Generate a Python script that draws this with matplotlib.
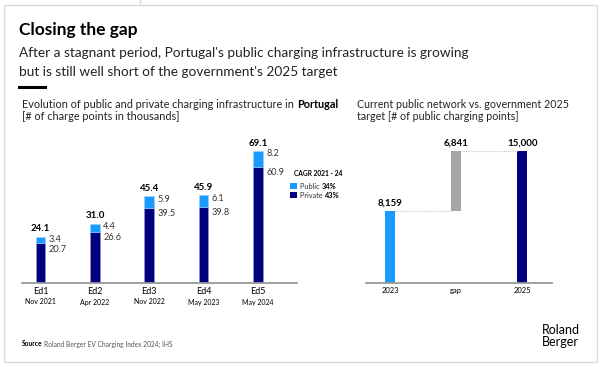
import matplotlib.pyplot as plt
from matplotlib.patches import Rectangle
from matplotlib.lines import Line2D

plt.rcParams['font.family'] = ['Lato', 'DejaVu Sans']

W, H = 605, 367

# left chart data (thousands of charge points)
editions = ['Ed1', 'Ed2', 'Ed3', 'Ed4', 'Ed5']
dates = ['Nov 2021', 'Apr 2022', 'Nov 2022', 'May 2023', 'May 2024']
private = [20.7, 26.6, 39.5, 39.8, 60.9]
public = [3.4, 4.4, 5.9, 6.1, 8.2]
totals = [24.1, 31.0, 45.4, 45.9, 69.1]

# right chart data
gap_labels = ['2023', 'gap', '2025']
current_2023 = 8159
gap_value = 6841
target_2025 = 15000

C_PUBLIC = '#1a9bff'
C_PRIVATE = '#00007f'
C_GAP = '#a6a6a6'
C_TEXT = '#222222'


def fx(x):
    return x / W


def fy(y):
    return 1 - y / H


fig = plt.figure(figsize=(W / 100, H / 100), dpi=100)

# frame
fig.patches.append(Rectangle((fx(4), fy(362)), fx(593), 357 / H, transform=fig.transFigure,
                             fill=False, edgecolor='#d9d9d9', linewidth=1.0))
fig.lines.append(Line2D([fx(140), fx(140)], [fy(0), fy(5)], transform=fig.transFigure,
                        color='#d9d9d9', linewidth=1.0))

# headings
fig.text(fx(19), fy(30), 'Closing the gap', fontsize=12.5, fontweight='bold', color='black', va='center')
fig.text(fx(19), fy(53), "After a stagnant period, Portugal's public charging infrastructure is growing",
         fontsize=9.8, color=C_TEXT, va='center')
fig.text(fx(19), fy(72), "but is still well short of the government's 2025 target",
         fontsize=9.8, color=C_TEXT, va='center')
fig.lines.append(Line2D([fx(19), fx(45)], [fy(87), fy(87)], transform=fig.transFigure,
                        color='black', linewidth=2.2))

renderer = fig.canvas.get_renderer()
t = fig.text(fx(22), fy(105), 'Evolution of public and private charging infrastructure in ',
             fontsize=7.8, color=C_TEXT, va='center')
bb = t.get_window_extent(renderer)
fig.text(bb.x1 / W, fy(105), 'Portugal', fontsize=7.8, fontweight='bold', color='black', va='center')
fig.text(fx(22), fy(116), '[# of charge points in thousands]', fontsize=7.8, color=C_TEXT, va='center')

fig.text(fx(357), fy(105), 'Current public network vs. government 2025', fontsize=7.7, color=C_TEXT, va='center')
fig.text(fx(357), fy(116), 'target [# of public charging points]', fontsize=7.7, color=C_TEXT, va='center')

# left chart
ax1 = fig.add_axes([fx(22), fy(283), 275 / W, 152.8 / H])
x = list(range(len(editions)))
bw = 0.175
ax1.bar(x, private, width=bw, color=C_PRIVATE, edgecolor='#9a9ad8', linewidth=0.4)
ax1.bar(x, public, width=bw, bottom=private, color=C_PUBLIC, edgecolor='#9ad0ff', linewidth=0.4)
for i in x:
    ax1.annotate(f'{totals[i]:.1f}', (i, totals[i]), xytext=(0, 2.5), textcoords='offset points',
                 ha='center', va='bottom', fontsize=7, fontweight='bold', color='black')
    ax1.annotate(f'{public[i]:.1f}', (i + bw / 2, totals[i]), xytext=(2.5, -2.0), textcoords='offset points',
                 ha='left', va='center', fontsize=6.6, color='#333333')
    ax1.annotate(f'{private[i]:.1f}', (i + bw / 2, private[i]), xytext=(2.5, -4.0), textcoords='offset points',
                 ha='left', va='center', fontsize=6.6, color='#333333')
ax1.set_xlim(-0.342, 4.72)
ax1.set_ylim(0, 80)
ax1.set_xticks(x)
ax1.set_xticklabels(editions, fontsize=6.5, color='black')
ax1.tick_params(axis='x', length=0, pad=3)
for i, d in enumerate(dates):
    ax1.annotate(d, (i, 0), xytext=(0, -19), textcoords='offset pixels', ha='center', va='center',
                 fontsize=5, color='black')
ax1.set_yticks([])
for s in ['top', 'right', 'left']:
    ax1.spines[s].set_visible(False)
ax1.spines['bottom'].set_color('#999999')
ax1.spines['bottom'].set_linewidth(1.3)

# legend
fig.text(fx(294), fy(174), 'CAGR 2021 - 24', fontsize=4.8, fontweight='bold', color='black', va='center')
for yy, col, lab, val in [(186, C_PUBLIC, 'Public', '34%'), (195, C_PRIVATE, 'Private', '43%')]:
    fig.patches.append(Rectangle((fx(290), fy(yy + 3.3)), 6.5 / W, 6.5 / H, transform=fig.transFigure,
                                 facecolor=col, edgecolor='none'))
    tl = fig.text(fx(300), fy(yy), lab + ' ', fontsize=5.3, color='#333333', va='center')
    b2 = tl.get_window_extent(renderer)
    fig.text(b2.x1 / W, fy(yy), val, fontsize=5.3, fontweight='bold', color='black', va='center')

# right chart
ax2 = fig.add_axes([fx(366), fy(283), 186 / W, 152 / H])
bw2 = 0.144
ax2.bar(0, current_2023, width=bw2, color=C_PUBLIC)
ax2.bar(1, gap_value, width=bw2, bottom=current_2023, color=C_GAP)
ax2.bar(2, target_2025, width=bw2, color=C_PRIVATE)
ax2.plot([bw2 / 2, 1 - bw2 / 2], [current_2023, current_2023], color='#c8c8c8', linestyle=(0, (1, 1)),
         linewidth=0.8)
ax2.plot([1 + bw2 / 2, 2 - bw2 / 2], [target_2025, target_2025], color='#c8c8c8', linestyle=(0, (1, 1)),
         linewidth=0.8)
for xi, top, val in [(0, current_2023, current_2023), (1, current_2023 + gap_value, gap_value),
                     (2, target_2025, target_2025)]:
    ax2.annotate(f'{val:,}', (xi, top), xytext=(0, 2.5), textcoords='offset points',
                 ha='center', va='bottom', fontsize=7, fontweight='bold', color='black')
ax2.set_xlim(-0.364, 2.45)
ax2.set_ylim(0, 17338)
ax2.set_xticks([0, 1, 2])
ax2.set_xticklabels(gap_labels, fontsize=5.5, color='black')
ax2.tick_params(axis='x', length=0, pad=3)
ax2.set_yticks([])
for s in ['top', 'right', 'left']:
    ax2.spines[s].set_visible(False)
ax2.spines['bottom'].set_color('#999999')
ax2.spines['bottom'].set_linewidth(1.3)

# source and logo
ts = fig.text(fx(22), fy(344), 'Source', fontsize=4.8, fontweight='bold', color='black', va='center')
b3 = ts.get_window_extent(renderer)
fig.text(b3.x1 / W + 1.5 / W, fy(344), 'Roland Berger EV Charging Index 2024; IHS', fontsize=4.8,
         color='#555555', va='center')
fig.text(fx(542), fy(336), 'Roland\nBerger', fontsize=9, color='black', va='center', ha='left',
         linespacing=0.9)

fig.savefig('out.png', dpi=100)
